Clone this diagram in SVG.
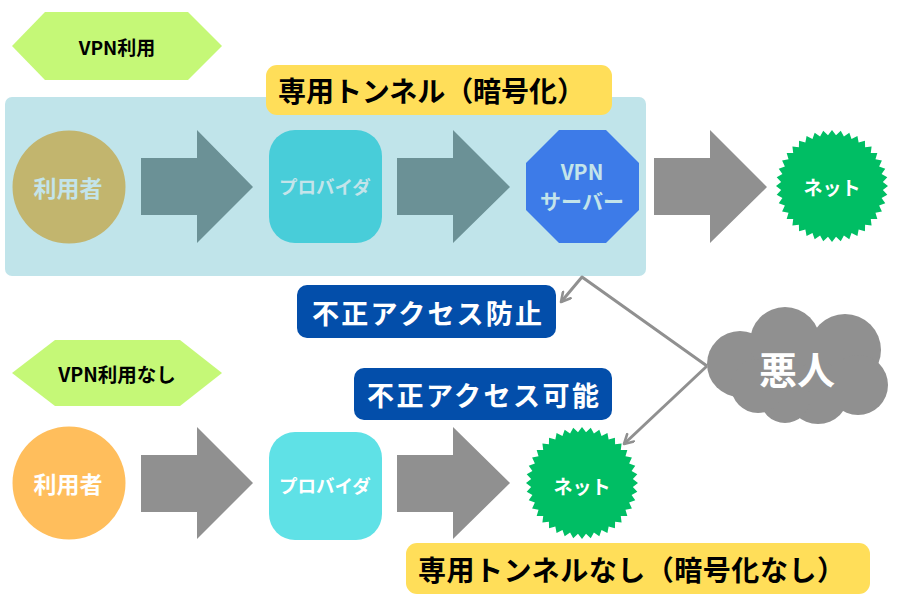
<svg xmlns="http://www.w3.org/2000/svg" xmlns:xlink="http://www.w3.org/1999/xlink" width="900" height="600" viewBox="0 0 900 600">
<style>
.t{font-family:"Noto Sans CJK JP","Noto Sans",sans-serif;font-weight:bold;text-anchor:middle;dominant-baseline:central}
.hex{fill:#c5f877}
.blk{fill:#000000}
.wht{fill:#ffffff}
.pale{fill:#c3e4ea}
.garrow{fill:#909090}
.darrow{fill:#6b9196}
.net{fill:#00be64}
.lbl{fill:#ffde59}
.blue{fill:#034eaa}
.conn{fill:none;stroke:#909090;stroke-width:3;stroke-linejoin:round}
</style>
<defs>
<marker id="vhead" viewBox="0 0 12 12" refX="10.5" refY="6" markerWidth="12" markerHeight="12" markerUnits="userSpaceOnUse" orient="auto">
<path d="M1.5,1 L10.5,6 L1.5,11" fill="none" stroke="#909090" stroke-width="2.6" stroke-linecap="round" stroke-linejoin="round"/>
</marker>
<polygon id="burst" points="0,-56 4,-50.84 8.76,-55.31 11.91,-49.59 17.31,-53.26 19.52,-47.12 25.42,-49.9 26.65,-43.48 32.92,-45.31 33.12,-38.78 39.6,-39.6 38.78,-33.12 45.31,-32.92 43.48,-26.65 49.9,-25.42 47.12,-19.52 53.26,-17.31 49.59,-11.91 55.31,-8.76 50.84,-4 56,0 50.84,4 55.31,8.76 49.59,11.91 53.26,17.31 47.12,19.52 49.9,25.42 43.48,26.65 45.31,32.92 38.78,33.12 39.6,39.6 33.12,38.78 32.92,45.31 26.65,43.48 25.42,49.9 19.52,47.12 17.31,53.26 11.91,49.59 8.76,55.31 4,50.84 0,56 -4,50.84 -8.76,55.31 -11.91,49.59 -17.31,53.26 -19.52,47.12 -25.42,49.9 -26.65,43.48 -32.92,45.31 -33.12,38.78 -39.6,39.6 -38.78,33.12 -45.31,32.92 -43.48,26.65 -49.9,25.42 -47.12,19.52 -53.26,17.31 -49.59,11.91 -55.31,8.76 -50.84,4 -56,0 -50.84,-4 -55.31,-8.76 -49.59,-11.91 -53.26,-17.31 -47.12,-19.52 -49.9,-25.42 -43.48,-26.65 -45.31,-32.92 -38.78,-33.12 -39.6,-39.6 -33.12,-38.78 -32.92,-45.31 -26.65,-43.48 -25.42,-49.9 -19.52,-47.12 -17.31,-53.26 -11.91,-49.59 -8.76,-55.31 -4,-50.84"/>
</defs>

<g id="tunnel-box">
<rect x="5" y="97" width="641" height="179" rx="7" fill="#c0e4ea"/>
</g>

<g id="label-vpn">
<polygon class="hex" points="12,46 45,12 188,12 222,46 188,80 45,80"/>
<text class="t blk" x="117" y="46" font-size="19">VPN利用</text>
</g>

<g id="label-novpn">
<polygon class="hex" points="12,373 55,340 180,340 222,373 180,406 55,406"/>
<text class="t blk" x="117" y="373" font-size="19.5">VPN利用なし</text>
</g>

<g id="connectors">
<polygon class="darrow" points="141,158 197,158 197,130 253,187 197,243 197,215 141,215"/>
<polygon class="darrow" points="397,158 453,158 453,130 510,187 453,243 453,215 397,215"/>
<polygon class="garrow" points="654,158 710,158 710,130 767,187 710,243 710,215 654,215"/>
<polygon class="garrow" points="141,455 197,455 197,427 253,483 197,539 197,512 141,512"/>
<polygon class="garrow" points="397,455 453,455 453,427 510,483 453,539 453,512 397,512"/>
<polyline class="conn" points="707,366 582,277 561,302" marker-end="url(#vhead)"/>
<line class="conn" x1="707" y1="366" x2="624" y2="444" marker-end="url(#vhead)"/>
</g>

<g id="user-vpn">
<circle cx="69" cy="187" r="56.5" fill="#c2b56e"/>
<text class="t pale" x="68" y="187" font-size="23">利用者</text>
</g>

<g id="provider-vpn">
<rect x="269" y="130" width="113" height="113" rx="26" fill="#48cdd9"/>
<text class="t pale" x="325" y="186" font-size="18.5">プロバイダ</text>
</g>

<g id="vpn-server">
<polygon points="559,130 606,130 639,163 639,210 606,243 559,243 526,210 526,163" fill="#3d7be8"/>
<text class="t pale" x="582" y="171" font-size="21">VPN</text>
<text class="t pale" x="582" y="200" font-size="21">サーバー</text>
</g>

<g id="net-vpn">
<use xlink:href="#burst" class="net" transform="translate(832,186)"/>
<text class="t wht" x="832" y="186" font-size="19">ネット</text>
</g>

<g id="tunnel-label">
<rect x="266" y="65" width="346" height="50" rx="11" class="lbl"/>
<text class="t blk" x="431.5" y="90" font-size="28" textLength="307" lengthAdjust="spacing">専用トンネル（暗号化）</text>
</g>

<g id="block-label">
<rect x="297" y="285" width="259" height="53" rx="10" class="blue"/>
<text class="t wht" x="427" y="312" font-size="27" textLength="230" lengthAdjust="spacing">不正アクセス防止</text>
</g>

<g id="open-label">
<rect x="354" y="368" width="258" height="52" rx="10" class="blue"/>
<text class="t wht" x="483" y="394" font-size="27" textLength="232" lengthAdjust="spacing">不正アクセス可能</text>
</g>

<g id="attacker">
<g fill="#909090">
<circle cx="797" cy="366" r="42"/>
<circle cx="740" cy="364" r="33"/>
<circle cx="785" cy="342" r="35"/>
<circle cx="845" cy="350" r="36"/>
<circle cx="858" cy="385" r="30"/>
<circle cx="818" cy="393" r="31"/>
<circle cx="785" cy="398" r="25"/>
<circle cx="758" cy="386" r="27"/>
</g>
<text class="t wht" x="797" y="367" font-size="38">悪人</text>
</g>

<g id="user-novpn">
<circle cx="69" cy="483" r="56.5" fill="#ffbe5c"/>
<text class="t wht" x="68" y="483" font-size="23">利用者</text>
</g>

<g id="provider-novpn">
<rect x="269" y="432" width="113" height="108" rx="26" fill="#5fe1e6"/>
<text class="t wht" x="325" y="485" font-size="18.5">プロバイダ</text>
</g>

<g id="net-novpn">
<use xlink:href="#burst" class="net" transform="translate(582,483)"/>
<text class="t wht" x="582" y="485" font-size="19">ネット</text>
</g>

<g id="no-tunnel-label">
<rect x="406" y="543" width="464" height="51" rx="11" class="lbl"/>
<text class="t blk" x="631.5" y="568.5" font-size="28" textLength="427" lengthAdjust="spacing">専用トンネルなし（暗号化なし）</text>
</g>
</svg>
